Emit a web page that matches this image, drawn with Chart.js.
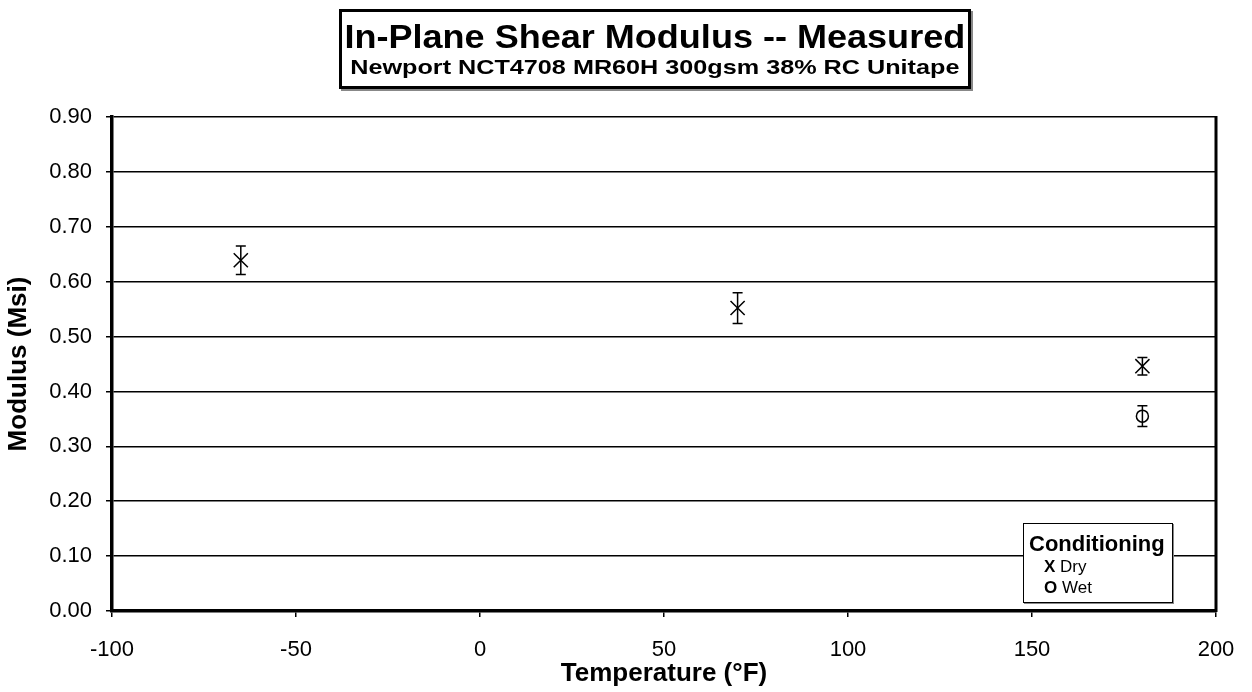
<!DOCTYPE html>
<html>
<head>
<meta charset="utf-8">
<script src="https://cdn.jsdelivr.net/npm/chart.js@4/dist/chart.umd.min.js"></script>
<style>
  body { margin: 0; background: #fff; font-family: 'Liberation Sans', Arial, sans-serif; }
  #wrap { position: relative; width: 1252px; height: 692px; }
  #title_box {
    position: absolute; left: 339px; top: 9px; width: 626px; height: 74px;
    border: 3px solid #000; background: #fff; text-align: center; color: #000;
    box-shadow: 2px 2px 0 #888;
  }
  #title_box span { display: inline-block; font-weight: bold; white-space: nowrap; }
  #title_box .main { font-size: 34px; line-height: 40px; margin-top: 4px; transform: scaleX(1.06); }
  #title_box .sub { font-size: 21px; line-height: 26px; margin-top: -2px; transform: scaleX(1.2); }
  #legend_box {
    position: absolute; left: 1023px; top: 523px; width: 148px; height: 78px;
    border: 1.5px solid #000; background: #fff; color: #000; box-shadow: 1px 1px 0 #888;
  }
  #legend_box .head { font-weight: bold; font-size: 22px; line-height: 25px; margin: 7px 0 0 5px; }
  #legend_box .row { font-size: 17px; margin-left: 20px; line-height: 21px; }
</style>
</head>
<body>
<div id="wrap">
  <canvas id="shear_chart" width="1252" height="692"></canvas>
  <div id="title_box">
    <span class="main">In-Plane Shear Modulus -- Measured</span><br>
    <span class="sub">Newport NCT4708 MR60H 300gsm 38% RC Unitape</span>
  </div>
  <div id="legend_box">
    <div class="head">Conditioning</div>
    <div class="row"><b>X</b> Dry</div>
    <div class="row"><b>O</b> Wet</div>
  </div>
</div>
<script>
// values
const dryTemps = [-65, 70, 180];
const dryModulus = [0.639, 0.552, 0.446];
const dryErr = [0.026, 0.028, 0.016];

const wetTemps = [180];
const wetModulus = [0.355];
const wetErr = [0.019];

const xTicks = [-100, -50, 0, 50, 100, 150, 200];
const yTicks = [0, 0.1, 0.2, 0.3, 0.4, 0.5, 0.6, 0.7, 0.8, 0.9];

const fontFam = "'Liberation Sans', Arial, sans-serif";

const toPoints = (xs, ys) => xs.map((x, i) => ({ x: x, y: ys[i] }));

// error bars + right frame edge
const errorBars = {
  id: 'errorBars',
  afterDatasetsDraw(chart) {
    const ctx = chart.ctx;
    const xs = chart.scales.x, ys = chart.scales.y;
    ctx.save();
    ctx.strokeStyle = '#000';
    ctx.lineWidth = 1.5;
    chart.data.datasets.forEach(ds => {
      ds.data.forEach((p, i) => {
        const e = ds.errors[i];
        const px = xs.getPixelForValue(p.x);
        const top = ys.getPixelForValue(p.y + e);
        const bot = ys.getPixelForValue(p.y - e);
        ctx.beginPath();
        ctx.moveTo(px, top); ctx.lineTo(px, bot);
        ctx.moveTo(px - 5, top); ctx.lineTo(px + 5, top);
        ctx.moveTo(px - 5, bot); ctx.lineTo(px + 5, bot);
        ctx.stroke();
      });
    });
    const a = chart.chartArea;
    ctx.lineWidth = 3;
    ctx.beginPath();
    ctx.moveTo(a.right, a.top - 1);
    ctx.lineTo(a.right, a.bottom + 1);
    ctx.stroke();
    ctx.restore();
  }
};

Chart.defaults.font.family = fontFam;
Chart.defaults.color = '#000';

new Chart(document.getElementById('shear_chart').getContext('2d'), {
  type: 'scatter',
  data: {
    datasets: [{
      label: 'Dry',
      data: toPoints(dryTemps, dryModulus),
      errors: dryErr,
      pointStyle: 'crossRot',
      pointRadius: 10,
      pointHoverRadius: 10,
      borderColor: '#000',
      borderWidth: 1.5
    }, {
      label: 'Wet',
      data: toPoints(wetTemps, wetModulus),
      errors: wetErr,
      pointStyle: 'circle',
      pointRadius: 6,
      pointHoverRadius: 6,
      backgroundColor: 'rgba(0,0,0,0)',
      borderColor: '#000',
      borderWidth: 1.5
    }]
  },
  plugins: [errorBars],
  options: {
    responsive: false,
    animation: false,
    events: [],
    layout: { padding: { top: 117, right: 36, left: 0, bottom: 0 } },
    plugins: {
      legend: { display: false },
      tooltip: { enabled: false }
    },
    scales: {
      x: {
        type: 'linear',
        min: -100,
        max: 200,
        afterFit: s => { s.height = 81; s.paddingLeft = 0; s.paddingRight = 0; },
        afterBuildTicks: s => { s.ticks = xTicks.map(v => ({ value: v })); },
        ticks: { font: { size: 22 }, padding: 20, color: '#000' },
        grid: { drawOnChartArea: false, color: '#000', lineWidth: 1.5, tickLength: 6 },
        border: { color: '#000', width: 3.5 },
        title: { display: true, text: 'Temperature (°F)', font: { size: 26, weight: 'bold' }, padding: { top: 0, bottom: 3 } }
      },
      y: {
        min: 0,
        max: 0.9,
        afterFit: s => { s.width = 112; s.paddingTop = 0; s.paddingBottom = 0; },
        afterBuildTicks: s => { s.ticks = yTicks.map(v => ({ value: v })); },
        ticks: { font: { size: 22 }, padding: 14, color: '#000', callback: v => v.toFixed(2) },
        grid: { color: '#000', lineWidth: 1.5, tickLength: 6 },
        border: { color: '#000', width: 3.5 },
        title: { display: true, text: 'Modulus (Msi)', font: { size: 26, weight: 'bold' }, padding: { top: 3, bottom: 0 } }
      }
    }
  }
});
</script>
</body>
</html>
